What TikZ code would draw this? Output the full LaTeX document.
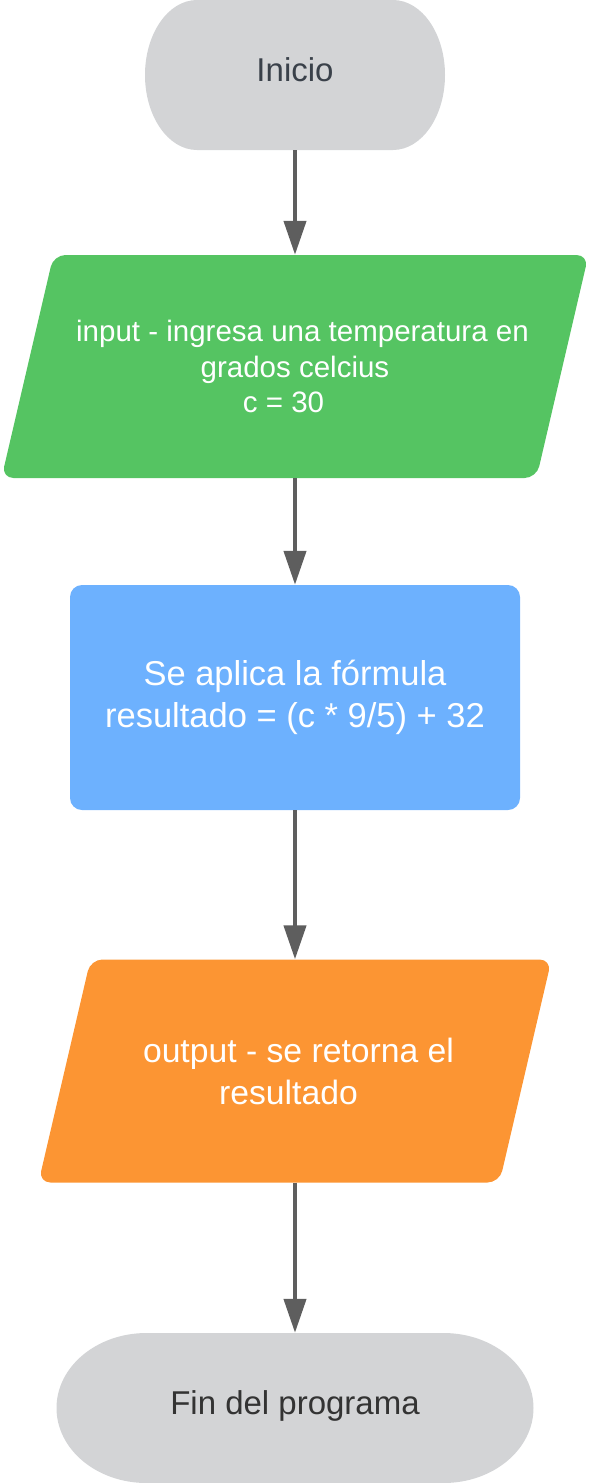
\documentclass[tikz,border=0pt]{standalone}
\usepackage{fontspec}
\setmainfont{Liberation Sans}
\usetikzlibrary{arrows.meta}
\definecolor{termgray}{HTML}{D3D4D6}
\definecolor{initext}{HTML}{3A414A}
\definecolor{fintext}{HTML}{333333}
\definecolor{iogreen}{HTML}{55C462}
\definecolor{procblue}{HTML}{6DB1FE}
\definecolor{outorange}{HTML}{FC9533}
\definecolor{flowgray}{HTML}{5E5E5E}
\begin{document}
\begin{tikzpicture}[x=1pt,y=-1pt]

    \tikzset{
      terminal/.style n args={2}{
        minimum width=#1,
        minimum height=150pt,
        inner sep=0pt,
        text height=24pt,
        text depth=12pt,
        font=\fontsize{33}{40}\selectfont,
        path picture={
          \fill[termgray] ([xshift=#2]path picture bounding box.north west)
            -- ([xshift=-#2]path picture bounding box.north east)
            arc[start angle=90, end angle=-90, x radius=#2, y radius=75pt]
            -- ([xshift=#2]path picture bounding box.south west)
            arc[start angle=270, end angle=90, x radius=#2, y radius=75pt]
            -- cycle;
        },
      },
      io/.style n args={2}{
        minimum width=#1,
        minimum height=223pt,
        inner sep=0pt,
        text=white,
        align=center,
        path picture={
          \fill[#2, rounded corners=12pt] ([xshift=52pt]path picture bounding box.north west)
            -- (path picture bounding box.north east)
            -- ([xshift=-52pt]path picture bounding box.south east)
            -- (path picture bounding box.south west) -- cycle;
        },
      },
      process/.style={
        fill=procblue,
        rounded corners=12pt,
        minimum width=450pt,
        minimum height=225pt,
        inner sep=0pt,
        text=white,
        align=center,
      },
      flow/.style={
        draw=flowgray,
        line width=4.3pt,
        -{Triangle[length=34pt, width=22pt]},
      },
    }
    \useasboundingbox (0,0) rectangle (589,1483);
	\node[terminal={300pt}{52pt}, text=initext] (inicio) at (295,75) {Inicio};
	\node[io={587pt}{iogreen}, font=\fontsize{29.5}{35.5}\selectfont] (entrada) at (295,366.5) {\hspace*{15pt}input - ingresa una temperatura en\\grados celcius\\c = 30\hspace*{23pt}};
	\node[process, font=\fontsize{34.5}{42}\selectfont] (formula) at (295,697.5) {Se aplica la fórmula\\resultado = (c * 9/5) + 32};
	\node[io={513pt}{outorange}, font=\fontsize{33.7}{42}\selectfont] (salida) at (295,1071) {\hspace*{7pt}output - se retorna el\\resultado\hspace*{13pt}};
	\node[terminal={477pt}{90pt}, text=fintext] (fin) at (295,1408) {Fin del programa};
	\draw[flow] (inicio) -- (entrada);
	\draw[flow] (entrada) -- (formula);
	\draw[flow] (formula) -- (salida);
	\draw[flow] (salida) -- (fin);

\end{tikzpicture}
\end{document}
